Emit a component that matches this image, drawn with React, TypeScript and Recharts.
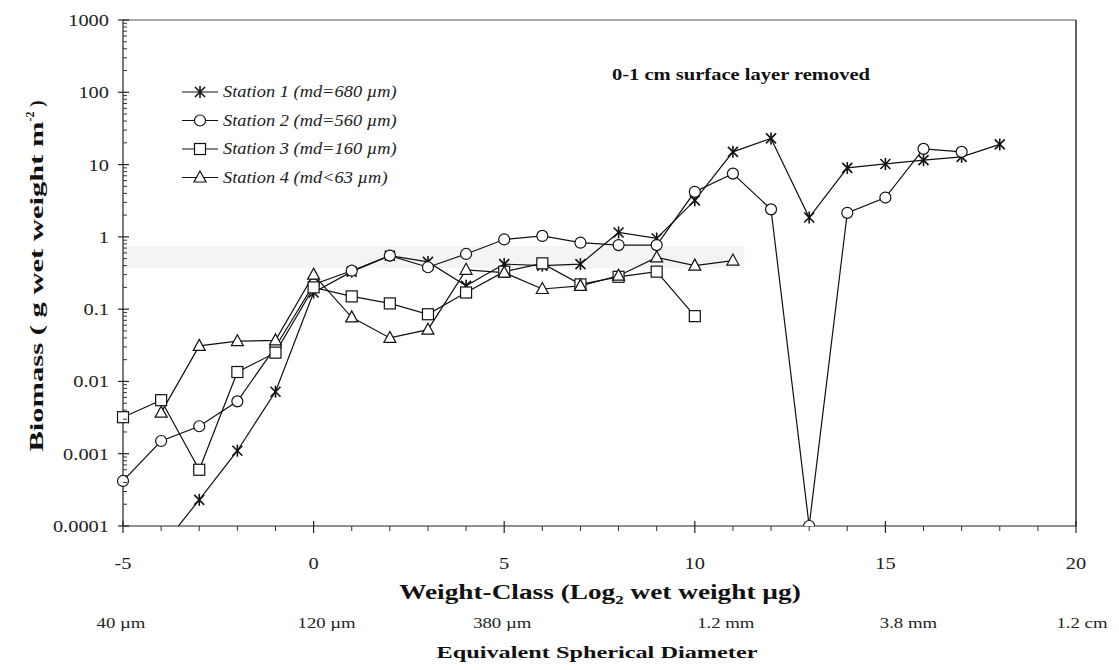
import React from "react";
import {
  LineChart,
  Line,
  XAxis,
  YAxis,
  ReferenceLine,
  ReferenceArea,
  Legend,
} from "recharts";

// weight classes (log2 wet weight, µg)
const weightClasses = [
  -5, -4, -3, -2, -1, 0, 1, 2, 3, 4, 5, 6, 7, 8, 9, 10, 11, 12, 13, 14, 15, 16,
  17, 18,
];

// biomass, g wet weight m-2
const station1 = [
  null, 0.00005, 0.00023, 0.0011, 0.0072, 0.17, 0.33, 0.55, 0.45, 0.21, 0.42,
  0.4, 0.42, 1.15, 0.95, 3.2, 15, 23, 1.85, 9, 10.2, 11.5, 12.8, 19,
];
const station2 = [
  0.00042, 0.0015, 0.0024, 0.0053, 0.03, 0.22, 0.34, 0.55, 0.38, 0.58, 0.92,
  1.03, 0.83, 0.77, 0.77, 4.2, 7.5, 2.4, 0.0001, 2.15, 3.5, 16.5, 15, null,
];
const station3 = [
  0.0032, 0.0055, 0.0006, 0.0135, 0.025, 0.2, 0.15, 0.12, 0.085, 0.17, 0.33,
  0.43, 0.22, 0.28, 0.33, 0.08, null, null, null, null, null, null, null, null,
];
const station4 = [
  null, 0.0037, 0.031, 0.036, 0.037, 0.3, 0.077, 0.04, 0.052, 0.35, 0.32, 0.19,
  0.21, 0.29, 0.52, 0.4, 0.47, null, null, null, null, null, null, null,
];

const xTicks = [
  -5, -4, -3, -2, -1, 0, 1, 2, 3, 4, 5, 6, 7, 8, 9, 10, 11, 12, 13, 14, 15, 16,
  17, 18, 19, 20,
];
const decades = [-4, -3, -2, -1, 0, 1, 2];
const yTicks = [
  ...decades.flatMap((d) =>
    [1, 2, 3, 4, 5, 6, 7, 8, 9].map((m) => Number((m * Math.pow(10, d)).toPrecision(3))),
  ),
  1000,
];

const diameterLabels = ["40 µm", "120 µm", "380 µm", "1.2 mm", "3.8 mm", "1.2 cm"];
const diameterShift = [-2, 13, -2, 31, 23, 6];

const SERIES = [
  { key: "s1", name: "Station 1 (md=680 µm)", marker: "star" },
  { key: "s2", name: "Station 2 (md=560 µm)", marker: "circle" },
  { key: "s3", name: "Station 3 (md=160 µm)", marker: "square" },
  { key: "s4", name: "Station 4 (md<63 µm)", marker: "triangle" },
];

const data = weightClasses.map((w, i) => ({
  w,
  s1: station1[i],
  s2: station2[i],
  s3: station3[i],
  s4: station4[i],
}));

const SERIF = "'Liberation Serif', 'DejaVu Serif', serif";
const INK = "#111";

function Marker({ kind, x, y }: { kind: string; x: number; y: number }) {
  const st = { stroke: INK, strokeWidth: 1.2, fill: "#fff" };
  if (kind === "star") {
    return (
      <g stroke={INK} strokeWidth={1.6}>
        <line x1={x - 5} y1={y - 5} x2={x + 5} y2={y + 5} />
        <line x1={x - 5} y1={y + 5} x2={x + 5} y2={y - 5} />
        <line x1={x} y1={y - 6} x2={x} y2={y + 6} />
      </g>
    );
  }
  if (kind === "circle") return <circle cx={x} cy={y} r={5.5} {...st} />;
  if (kind === "square")
    return <rect x={x - 5.5} y={y - 5.5} width={11} height={11} {...st} />;
  return (
    <polygon
      points={`${x},${y - 6.5} ${x + 6},${y + 4.5} ${x - 6},${y + 4.5}`}
      {...st}
    />
  );
}

const makeDot = (kind: string, dataKey: string) => (props: any) => {
  const { cx, cy, index, payload } = props;
  const v = payload ? payload[dataKey] : null;
  if (cx == null || cy == null || v == null || v < 0.0001)
    return <g key={`${dataKey}-${index}`} />;
  return <Marker key={`${dataKey}-${index}`} kind={kind} x={cx} y={cy} />;
};

function YTick(props: any) {
  const { x, y, payload } = props;
  const v = payload.value;
  const lg = Math.log10(v);
  const major = Math.abs(lg - Math.round(lg)) < 1e-6;
  if (!major)
    return <line x1={x} x2={x + 4} y1={y} y2={y} stroke="#333" strokeWidth={1} />;
  const label = v >= 1 ? String(v) : v.toFixed(-Math.round(lg));
  return (
    <g>
      <line x1={x - 5} x2={x + 6} y1={y} y2={y} stroke="#222" strokeWidth={1.2} />
      <text
        transform={`translate(${x - 14},${y + 6}) scale(1.2,1)`}
        textAnchor="end"
        fontFamily={SERIF}
        fontSize={17}
        fill="#222"
      >
        {label}
      </text>
    </g>
  );
}

function XTick(props: any) {
  const { x, y, payload } = props;
  const v = payload.value;
  if (v % 5 !== 0)
    return <line x1={x} x2={x} y1={y} y2={y + 5} stroke="#333" strokeWidth={1} />;
  const i = (v + 5) / 5;
  return (
    <g>
      <line x1={x} x2={x} y1={y - 5} y2={y + 7} stroke="#222" strokeWidth={1.2} />
      <text
        transform={`translate(${x},${y + 43}) scale(1.2,1)`}
        textAnchor="middle"
        fontFamily={SERIF}
        fontSize={17}
        fill="#222"
      >
        {v}
      </text>
      <text
        transform={`translate(${x + diameterShift[i]},${y + 102}) scale(1.25,1)`}
        textAnchor="middle"
        fontFamily={SERIF}
        fontSize={15}
        fill="#222"
      >
        {diameterLabels[i]}
      </text>
    </g>
  );
}

function LegendBox() {
  return (
    <svg width={240} height={112}>
      {SERIES.map((s, i) => {
        const cy = 10 + i * 28.5;
        return (
          <g key={s.key}>
            <line x1={4} x2={40} y1={cy} y2={cy} stroke={INK} strokeWidth={1.2} />
            <Marker kind={s.marker} x={22} y={cy} />
            <text
              transform={`translate(45,${cy + 5}) scale(1.15,1)`}
              fontFamily={SERIF}
              fontStyle="italic"
              fontSize={16}
              fill="#222"
            >
              {s.name}
            </text>
          </g>
        );
      })}
    </svg>
  );
}

export default function App() {
  return (
    <div style={{ position: "relative", width: 1119, height: 670, background: "#fff" }}>
      <style>{"body{margin:0;background:#fff}"}</style>
      <LineChart
        width={1119}
        height={670}
        data={data}
        margin={{ top: 20, right: 43, bottom: 0, left: 0 }}
      >
        <XAxis
          dataKey="w"
          type="number"
          domain={[-5, 20]}
          ticks={xTicks}
          interval={0}
          height={144}
          tickSize={0}
          tickMargin={0}
          tick={<XTick />}
          axisLine={{ stroke: "#222", strokeWidth: 1.2 }}
          tickLine={false}
        />
        <YAxis
          type="number"
          scale="log"
          domain={[0.0001, 1000]}
          allowDataOverflow
          ticks={yTicks}
          interval={0}
          width={123}
          tickSize={0}
          tickMargin={0}
          tick={<YTick />}
          axisLine={{ stroke: "#222", strokeWidth: 1.2 }}
          tickLine={false}
        />
        <ReferenceArea
          x1={-5}
          x2={11.3}
          y1={0.37}
          y2={0.75}
          fill="#eef1ec"
          fillOpacity={0.7}
          stroke="none"
        />
        <ReferenceLine y={1000} stroke="#555" strokeWidth={1.2} />
        <ReferenceLine x={20} stroke="#222" strokeWidth={1.4} />
        <Legend
          layout="horizontal"
          verticalAlign="middle"
          align="center"
          wrapperStyle={{ left: 178, top: 82, width: 240, height: 112 }}
          content={() => <LegendBox />}
        />
        {SERIES.map((s) => (
          <Line
            key={s.key}
            dataKey={s.key}
            name={s.name}
            stroke={INK}
            strokeWidth={1.2}
            dot={makeDot(s.marker, s.key)}
            activeDot={false}
            isAnimationActive={false}
          />
        ))}
      </LineChart>
      <svg
        width={1119}
        height={670}
        style={{ position: "absolute", left: 0, top: 0, pointerEvents: "none" }}
      >
        <text
          x={870}
          y={80}
          textAnchor="end"
          fontFamily={SERIF}
          fontWeight="bold"
          fontSize={17}
          textLength={258}
          lengthAdjust="spacingAndGlyphs"
          fill="#111"
        >
          0-1 cm surface layer removed
        </text>
        <text
          transform="translate(43,276) rotate(-90)"
          textAnchor="middle"
          fontFamily={SERIF}
          fontWeight="bold"
          fontSize={19}
          fill="#111"
        >
          <tspan textLength={330} lengthAdjust="spacingAndGlyphs">Biomass ( g wet weight m</tspan>
          <tspan dy={-9} fontSize={12}>-2</tspan>
          <tspan dy={9}> )</tspan>
        </text>
        <text
          transform="translate(600,599) scale(1.3,1)"
          textAnchor="middle"
          fontFamily={SERIF}
          fontWeight="bold"
          fontSize={21}
          fill="#111"
        >
          <tspan>Weight-Class (Log</tspan>
          <tspan dy={5} fontSize={13}>2</tspan>
          <tspan dy={-5}> wet weight µg)</tspan>
        </text>
        <text
          x={597}
          y={658}
          textAnchor="middle"
          fontFamily={SERIF}
          fontWeight="bold"
          fontSize={17}
          textLength={321}
          lengthAdjust="spacingAndGlyphs"
          fill="#111"
        >
          Equivalent Spherical Diameter
        </text>
      </svg>
    </div>
  );
}
